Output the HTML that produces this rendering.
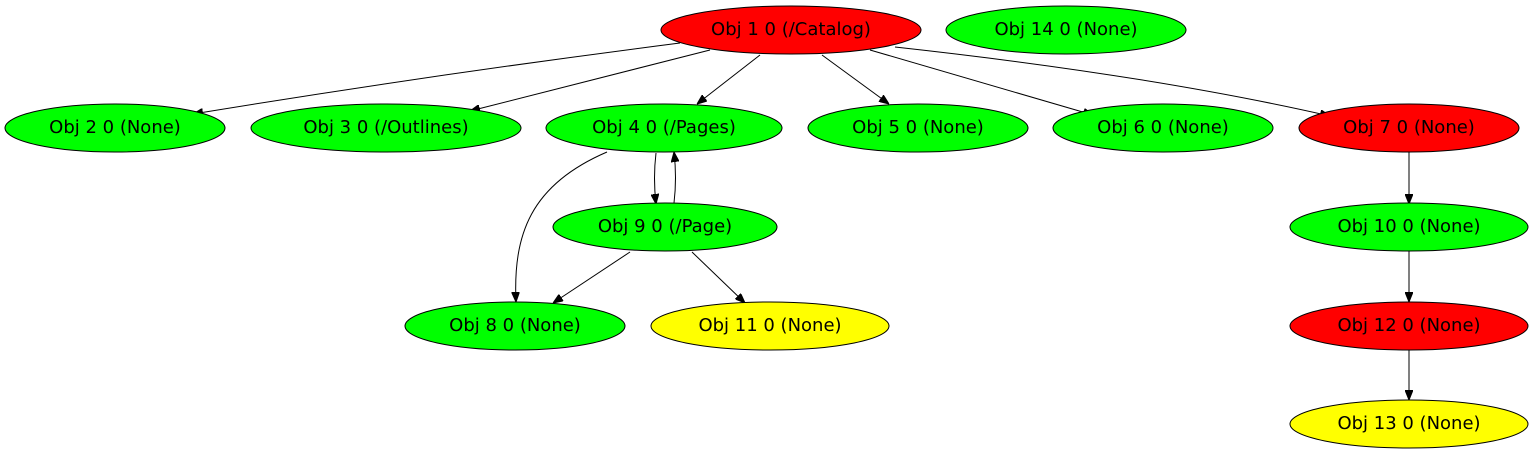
<!DOCTYPE html>
<html><head><meta charset="utf-8">
<style>
html,body{margin:0;padding:0;background:#fff;}
svg{display:block;}
text{font-family:"DejaVu Sans","Liberation Sans",sans-serif;font-size:18px;}
</style></head>
<body>
<svg id="g" width="1535" height="456" viewBox="0 0 1535 456">
<defs>
<marker id="ah" markerWidth="10" markerHeight="8" refX="10" refY="4" orient="auto" markerUnits="userSpaceOnUse">
<polygon points="0,0 10,4 0,8" fill="#000" stroke="#000"/>
</marker>
</defs>
</svg>
<script>
const nodeLabels=["Obj 1 0 (/Catalog)","Obj 14 0 (None)","Obj 2 0 (None)","Obj 3 0 (/Outlines)","Obj 4 0 (/Pages)","Obj 5 0 (None)","Obj 6 0 (None)","Obj 7 0 (None)","Obj 9 0 (/Page)","Obj 10 0 (None)","Obj 8 0 (None)","Obj 11 0 (None)","Obj 12 0 (None)","Obj 13 0 (None)"];
const nodeX=[791,1066,115,386,664,918,1163,1409,665,1409,515,770,1409,1409];
const nodeY=[30,30,128,128,128,128,128,128,227,227,326,326,326,424];
const nodeRx=[130,120,110,135,118,110,110,110,112,119,110,119,119,119];
const nodeColor=["#ff0000","#00ff00","#00ff00","#00ff00","#00ff00","#00ff00","#00ff00","#ff0000","#00ff00","#00ff00","#00ff00","#ffff00","#ff0000","#ffff00"];
const edgePaths=[
"M680,43 Q430,75 193,114",
"M710,50 L470,111",
"M760,55 L697,104",
"M822,55 L889,104",
"M870,50 L1093,115",
"M895,47 Q1150,75 1330,116",
"M656,153 Q653,178 656,204",
"M674,203 Q677,178 674,152",
"M607,152 C530,185 513,235 516,302",
"M630,252 L553,303",
"M692,252 L745,303",
"M1409,152 L1409,204",
"M1409,251 L1409,302",
"M1409,350 L1409,400"
];
const edgeNames=["edge-1-2","edge-1-3","edge-1-4","edge-1-5","edge-1-6","edge-1-7","edge-4-9","edge-9-4","edge-4-8","edge-9-8","edge-9-11","edge-7-10","edge-10-12","edge-12-13"];
const NS="http://www.w3.org/2000/svg";
const svg=document.getElementById('g');
edgePaths.forEach((d,i)=>{
  const p=document.createElementNS(NS,'path');
  p.setAttribute('d',d);p.setAttribute('fill','none');p.setAttribute('stroke','#000');p.setAttribute('stroke-width','1');
  p.setAttribute('marker-end','url(#ah)');
  
  
  svg.appendChild(p);
});
nodeLabels.forEach((t,i)=>{
  const g=document.createElementNS(NS,'g');
  
  
  const e=document.createElementNS(NS,'ellipse');
  e.setAttribute('cx',nodeX[i]);e.setAttribute('cy',nodeY[i]);e.setAttribute('rx',nodeRx[i]);e.setAttribute('ry',24);
  e.setAttribute('fill',nodeColor[i]);e.setAttribute('stroke','#000');
  g.appendChild(e);
  const tx=document.createElementNS(NS,'text');
  tx.setAttribute('x',nodeX[i]);tx.setAttribute('y',nodeY[i]+5);tx.setAttribute('text-anchor','middle');
  tx.textContent=t;
  g.appendChild(tx);
  svg.appendChild(g);
});
</script>
</body></html>
